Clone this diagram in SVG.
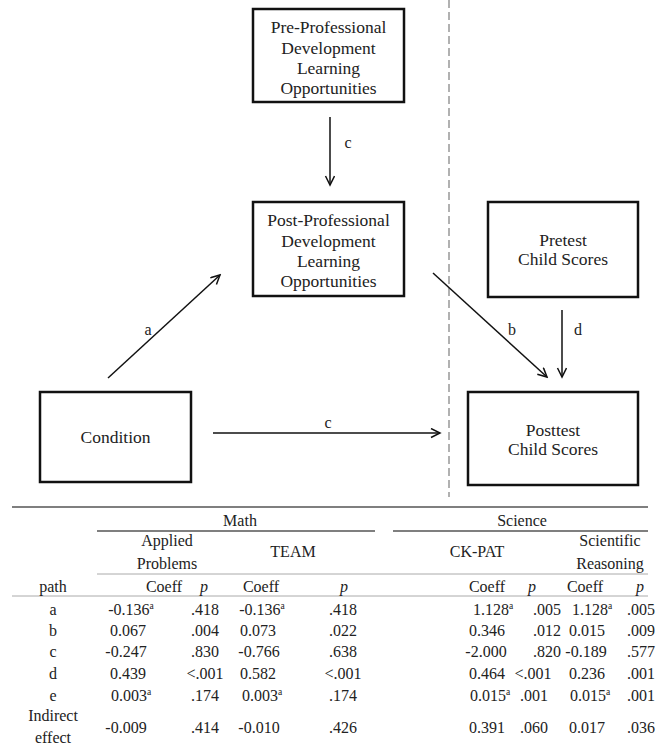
<svg xmlns="http://www.w3.org/2000/svg" width="658" height="749" viewBox="0 0 658 749" font-family="'Liberation Serif', 'DejaVu Serif', serif">
<style>
text, tspan{font-family:'Liberation Serif', 'DejaVu Serif', serif;fill:#222;}
.n{font-size:17.5px;text-anchor:middle;}
.t{font-size:16px;text-anchor:middle;}
.lbl{font-size:16px;text-anchor:middle;}
.box{fill:#fff;stroke:#111;stroke-width:2.5;}
.ar{stroke:#111;stroke-width:1.5;fill:none;}
.sup{font-size:9.5px;}
.rule{stroke:#555;stroke-width:1.5;}
.thin{stroke:#aaa;stroke-width:1;}
</style>
<defs>
<marker id="ah" markerWidth="12" markerHeight="12" refX="10" refY="5" orient="auto" markerUnits="userSpaceOnUse">
<path d="M1,0.5 L10,5 L1,9.5" fill="none" stroke="#111" stroke-width="1.5"/>
</marker>
</defs>
<rect width="658" height="749" fill="#fff"/>
<line x1="449" y1="0" x2="449" y2="497" stroke="#888" stroke-width="1.3" stroke-dasharray="8,4"/>
<g id="connectors">
<line class="ar" x1="330" y1="117" x2="330" y2="185" marker-end="url(#ah)"/>
<text class="lbl" x="348" y="148">c</text>
<line class="ar" x1="108" y1="378" x2="220" y2="275" marker-end="url(#ah)"/>
<text class="lbl" x="148" y="335">a</text>
<line class="ar" x1="213" y1="433" x2="440" y2="433" marker-end="url(#ah)"/>
<text class="lbl" x="328" y="428">c</text>
<line class="ar" x1="433" y1="273" x2="547" y2="377" marker-end="url(#ah)"/>
<text class="lbl" x="512" y="335">b</text>
<line class="ar" x1="562" y1="310" x2="562" y2="377" marker-end="url(#ah)"/>
<text class="lbl" x="578" y="335">d</text>
</g>
<g id="pre">
<rect class="box" x="253" y="9" width="151" height="93"/>
<text class="n" x="328.5" y="33">Pre-Professional</text>
<text class="n" x="328.5" y="54">Development</text>
<text class="n" x="328.5" y="74">Learning</text>
<text class="n" x="328.5" y="94">Opportunities</text>
</g>
<g id="post">
<rect class="box" x="253" y="202" width="151" height="94"/>
<text class="n" x="328.5" y="226">Post-Professional</text>
<text class="n" x="328.5" y="247">Development</text>
<text class="n" x="328.5" y="267">Learning</text>
<text class="n" x="328.5" y="287">Opportunities</text>
</g>
<g id="pretest">
<rect class="box" x="488" y="202" width="150" height="95"/>
<text class="n" x="563" y="246">Pretest</text>
<text class="n" x="563" y="265">Child Scores</text>
</g>
<g id="condition">
<rect class="box" x="40" y="392" width="151" height="90"/>
<text class="n" x="115.5" y="443">Condition</text>
</g>
<g id="posttest">
<rect class="box" x="468" y="392" width="170" height="93"/>
<text class="n" x="553" y="436">Posttest</text>
<text class="n" x="553" y="455">Child Scores</text>
</g>
<g id="table">
<line class="rule" x1="12" y1="507" x2="648" y2="507"/>
<line class="rule" x1="97" y1="531" x2="375" y2="531"/>
<line class="rule" x1="393" y1="531" x2="648" y2="531"/>
<line class="thin" x1="97" y1="574" x2="648" y2="574"/>
<line class="thin" x1="12" y1="596" x2="648" y2="596"/>
<text class="t" x="240" y="526">Math</text>
<text class="t" x="522" y="526">Science</text>
<text class="t" x="167" y="546">Applied</text>
<text class="t" x="167" y="569">Problems</text>
<text class="t" x="293" y="557">TEAM</text>
<text class="t" x="477" y="557">CK-PAT</text>
<text class="t" x="610" y="546">Scientific</text>
<text class="t" x="610" y="569">Reasoning</text>
<text class="t" x="53" y="592">path</text>
<text class="t" x="164" y="592">Coeff</text>
<text class="t" x="204" y="592" font-style="italic">p</text>
<text class="t" x="261" y="592">Coeff</text>
<text class="t" x="344" y="592" font-style="italic">p</text>
<text class="t" x="487" y="592">Coeff</text>
<text class="t" x="532" y="592" font-style="italic">p</text>
<text class="t" x="585" y="592">Coeff</text>
<text class="t" x="640" y="592" font-style="italic">p</text>

<text class="t" x="53" y="615">a</text>
<text class="t" x="131" y="615">-0.136<tspan class="sup" dy="-6">a</tspan></text>
<text class="t" x="205" y="615">.418</text>
<text class="t" x="262" y="615">-0.136<tspan class="sup" dy="-6">a</tspan></text>
<text class="t" x="343" y="615">.418</text>
<text class="t" x="493" y="615">1.128<tspan class="sup" dy="-6">a</tspan></text>
<text class="t" x="547" y="615">.005</text>
<text class="t" x="592" y="615">1.128<tspan class="sup" dy="-6">a</tspan></text>
<text class="t" x="641" y="615">.005</text>

<text class="t" x="53" y="636">b</text>
<text class="t" x="128" y="636">0.067</text>
<text class="t" x="205" y="636">.004</text>
<text class="t" x="258" y="636">0.073</text>
<text class="t" x="343" y="636">.022</text>
<text class="t" x="487" y="636">0.346</text>
<text class="t" x="547" y="636">.012</text>
<text class="t" x="587" y="636">0.015</text>
<text class="t" x="641" y="636">.009</text>

<text class="t" x="53" y="657">c</text>
<text class="t" x="126" y="657">-0.247</text>
<text class="t" x="205" y="657">.830</text>
<text class="t" x="259" y="657">-0.766</text>
<text class="t" x="343" y="657">.638</text>
<text class="t" x="486" y="657">-2.000</text>
<text class="t" x="547" y="657">.820</text>
<text class="t" x="586" y="657">-0.189</text>
<text class="t" x="641" y="657">.577</text>

<text class="t" x="53" y="679">d</text>
<text class="t" x="128" y="679">0.439</text>
<text class="t" x="205" y="679">&lt;.001</text>
<text class="t" x="258" y="679">0.582</text>
<text class="t" x="343" y="679">&lt;.001</text>
<text class="t" x="487" y="679">0.464</text>
<text class="t" x="533" y="679">&lt;.001</text>
<text class="t" x="587" y="679">0.236</text>
<text class="t" x="641" y="679">.001</text>

<text class="t" x="53" y="701">e</text>
<text class="t" x="131" y="701">0.003<tspan class="sup" dy="-6">a</tspan></text>
<text class="t" x="205" y="701">.174</text>
<text class="t" x="262" y="701">0.003<tspan class="sup" dy="-6">a</tspan></text>
<text class="t" x="343" y="701">.174</text>
<text class="t" x="490" y="701">0.015<tspan class="sup" dy="-6">a</tspan></text>
<text class="t" x="534" y="701">.001</text>
<text class="t" x="590" y="701">0.015<tspan class="sup" dy="-6">a</tspan></text>
<text class="t" x="641" y="701">.001</text>

<text class="t" x="53" y="721">Indirect</text>
<text class="t" x="53" y="743">effect</text>
<text class="t" x="126" y="733">-0.009</text>
<text class="t" x="205" y="733">.414</text>
<text class="t" x="259" y="733">-0.010</text>
<text class="t" x="343" y="733">.426</text>
<text class="t" x="487" y="733">0.391</text>
<text class="t" x="534" y="733">.060</text>
<text class="t" x="587" y="733">0.017</text>
<text class="t" x="641" y="733">.036</text>
</g>
</svg>
